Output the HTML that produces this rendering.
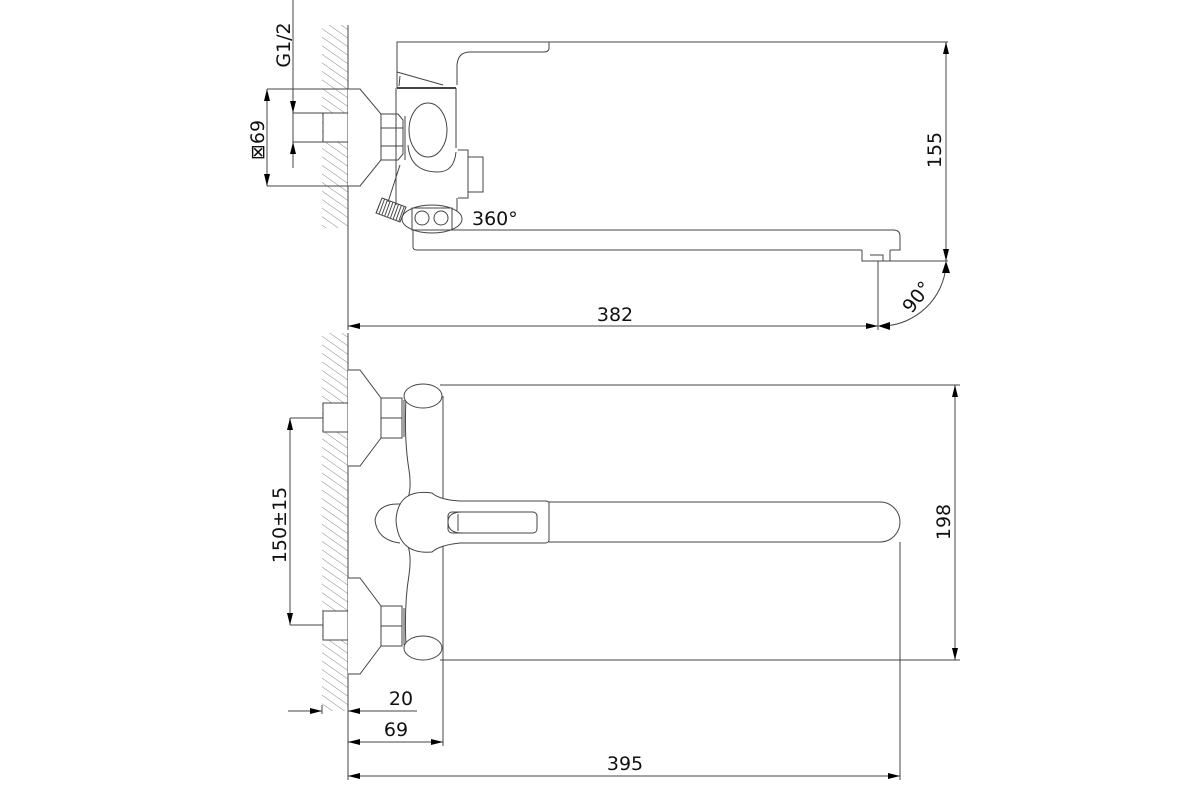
<!DOCTYPE html>
<html><head><meta charset="utf-8"><style>
html,body{margin:0;padding:0;background:#fff;}
svg{display:block;}
text{font-family:"DejaVu Sans","Liberation Sans",sans-serif;font-size:19px;fill:#111;}
</style></head><body>
<svg width="1200" height="800" viewBox="0 0 1200 800" xmlns="http://www.w3.org/2000/svg">
<defs>
<pattern id="h" width="7" height="7" patternUnits="userSpaceOnUse" patternTransform="rotate(-55)">
<line x1="0" y1="0" x2="0" y2="7" stroke="#888" stroke-width="1"/>
</pattern>
<pattern id="k" width="3" height="3" patternUnits="userSpaceOnUse" patternTransform="rotate(20)">
<line x1="0" y1="0" x2="0" y2="3" stroke="#222" stroke-width="1.6"/>
</pattern>
<marker id="a" viewBox="0 0 12 6" refX="12" refY="3" markerWidth="12" markerHeight="6" orient="auto" markerUnits="userSpaceOnUse">
<path d="M0,0 L12,3 L0,6 Z" fill="#000"/></marker>
</defs>
<g fill="none" stroke="#444" stroke-width="1">
<!-- TOP VIEW -->
<rect x="322" y="25" width="26" height="203" fill="url(#h)" stroke="none"/>
<line x1="348" y1="25" x2="348" y2="330"/>
<line x1="293" y1="0" x2="293" y2="160"/>
<line x1="293" y1="113" x2="325" y2="113"/>
<line x1="293" y1="142" x2="325" y2="142"/>
<line x1="293" y1="88" x2="293" y2="113" marker-end="url(#a)"/>
<line x1="293" y1="168" x2="293" y2="142" marker-end="url(#a)"/>
<line x1="267" y1="89" x2="360" y2="89"/>
<line x1="267" y1="186" x2="360" y2="186"/>
<line x1="267" y1="137" x2="267" y2="89" marker-end="url(#a)"/>
<line x1="267" y1="137" x2="267" y2="186" marker-end="url(#a)"/>
<rect x="323" y="113" width="25" height="29" fill="#fff"/>
<path d="M348,89 H360 L381,114 V160 L360,186 H348" fill="#fff"/>
<path d="M381,114 H398 L403,120 V154 L398,160 H381 Z M381,128 H403 M381,146 H403" fill="#fff"/>
<line x1="405" y1="116" x2="405" y2="160"/>
<!-- lever -->
<path d="M397,88 V42 H549 V48 Q549,52 544,52 H470 Q458,52 457,65 V85"/>
<path d="M397,72 L443,85"/>
<path d="M400,76 L399,86"/>
<line x1="397" y1="88" x2="456" y2="88" stroke-width="2"/>
<!-- body -->
<path d="M396,88 V205 M456,88 V148 M457,198 V210 L452,220"/>
<path d="M458,150 H468 V198 H458 M468,157 H483 V192 H468"/>
<ellipse cx="428" cy="130" rx="19" ry="27"/>
<path d="M408,145 Q410,172 438,172 Q454,172 456,152"/>
<path d="M400,165 L388,202"/>
<path d="M382,198 L406,207 L400,222 L376,213 Z" fill="url(#k)"/>
<!-- diverter -->
<ellipse cx="432" cy="219" rx="30" ry="14" fill="#fff"/>
<rect x="412" y="208" width="40" height="22"/>
<circle cx="422" cy="218" r="7"/><circle cx="441" cy="218" r="7"/>
<!-- spout -->
<path d="M413,230 V247 Q413,250 417,250 H862 M452,230 H893 Q900,230 900,236 V250 H890"/>
<path d="M862,250 V261 H890 V250 M870,255 H883 V261"/>
<!-- 155 -->
<line x1="549" y1="42" x2="948" y2="42"/>
<line x1="946" y1="150" x2="946" y2="42" marker-end="url(#a)"/>
<line x1="946" y1="150" x2="946" y2="261" marker-end="url(#a)"/>
<line x1="890" y1="261" x2="948" y2="261"/>
<line x1="878" y1="261" x2="878" y2="330"/>
<path d="M946,266 A66,66 0 0 1 884,326"/>
<path d="M946,261 l-4,12 l8,0 z" fill="#000" stroke="none"/>
<path d="M878,326 l12,-4 l0,8 z" fill="#000" stroke="none"/>
<line x1="615" y1="326" x2="348" y2="326" marker-end="url(#a)"/>
<line x1="615" y1="326" x2="878" y2="326" marker-end="url(#a)"/>

<!-- BOTTOM VIEW -->
<rect x="322" y="333" width="26" height="378" fill="url(#h)" stroke="none"/>
<line x1="348" y1="333" x2="348" y2="780"/>
<rect x="323" y="403" width="25" height="29" fill="#fff"/>
<rect x="323" y="611" width="25" height="29" fill="#fff"/>
<path d="M348,370 H360 L381,398 V438 L360,466 H348" fill="#fff"/>
<path d="M348,578 H360 L381,606 V646 L360,674 H348" fill="#fff"/>
<path d="M381,398 H402 V438 H381 Z M381,418 H402"/>
<path d="M381,606 H402 V646 H381 Z M381,626 H402"/>
<line x1="404" y1="400" x2="404" y2="437"/>
<line x1="404" y1="608" x2="404" y2="645"/>
<path d="M406,398 Q404,440 409,470 Q412,490 407,500"/>
<path d="M407,543 Q412,555 409,575 Q404,605 406,645"/>
<path d="M443,396 V498 M443,546 V660"/>
<ellipse cx="423" cy="396" rx="19" ry="12" fill="#fff"/>
<ellipse cx="423" cy="648" rx="19" ry="12" fill="#fff"/>
<line x1="440" y1="385" x2="960" y2="385"/>
<line x1="440" y1="660" x2="960" y2="660"/>
<path d="M400,504 Q378,503 375,520 Q377,540 400,543"/>
<path d="M549,502 H880 A20,20 0 0 1 880,542 H549"/>
<path d="M549,503 V540 Q549,543 545,543 H460 Q440,545 432,552 Q398,555 396,520 Q398,488 432,493 Q440,500 460,501 H545 Q549,501 549,503 Z" fill="#fff"/>
<rect x="448" y="512" width="89" height="21" rx="4"/>
<path d="M462,512 Q448,512 448,522 Q448,533 462,533 M458,514 V531"/>
<line x1="290" y1="418" x2="323" y2="418"/>
<line x1="290" y1="625" x2="323" y2="625"/>
<line x1="290" y1="520" x2="290" y2="418" marker-end="url(#a)"/>
<line x1="290" y1="520" x2="290" y2="625" marker-end="url(#a)"/>
<line x1="955" y1="520" x2="955" y2="385" marker-end="url(#a)"/>
<line x1="955" y1="520" x2="955" y2="660" marker-end="url(#a)"/>
<line x1="288" y1="711" x2="322" y2="711" marker-end="url(#a)"/>
<line x1="417" y1="711" x2="348" y2="711" marker-end="url(#a)"/>
<line x1="322" y1="705" x2="322" y2="714"/>
<line x1="443" y1="660" x2="443" y2="746"/>
<line x1="395" y1="742" x2="348" y2="742" marker-end="url(#a)"/>
<line x1="395" y1="742" x2="443" y2="742" marker-end="url(#a)"/>
<line x1="900" y1="542" x2="900" y2="780"/>
<line x1="625" y1="776" x2="348" y2="776" marker-end="url(#a)"/>
<line x1="625" y1="776" x2="900" y2="776" marker-end="url(#a)"/>
</g>
<g stroke="none">
<text transform="translate(290,45) rotate(-90)" text-anchor="middle">G1/2</text>
<text transform="translate(264,140) rotate(-90)" text-anchor="middle">⊠69</text>
<text x="472" y="225">360°</text>
<rect x="925" y="125" width="18" height="45" fill="#fff"/>
<text transform="translate(941,150) rotate(-90)" text-anchor="middle">155</text>
<text transform="translate(922,301) rotate(-52)" text-anchor="middle">90°</text>
<text x="615" y="321" text-anchor="middle">382</text>
<text transform="translate(286,525) rotate(-90)" text-anchor="middle">150±15</text>
<text transform="translate(950,522) rotate(-90)" text-anchor="middle">198</text>
<text x="401" y="705" text-anchor="middle">20</text>
<text x="396" y="736" text-anchor="middle">69</text>
<text x="625" y="770" text-anchor="middle">395</text>
</g>
</svg>
</body></html>
